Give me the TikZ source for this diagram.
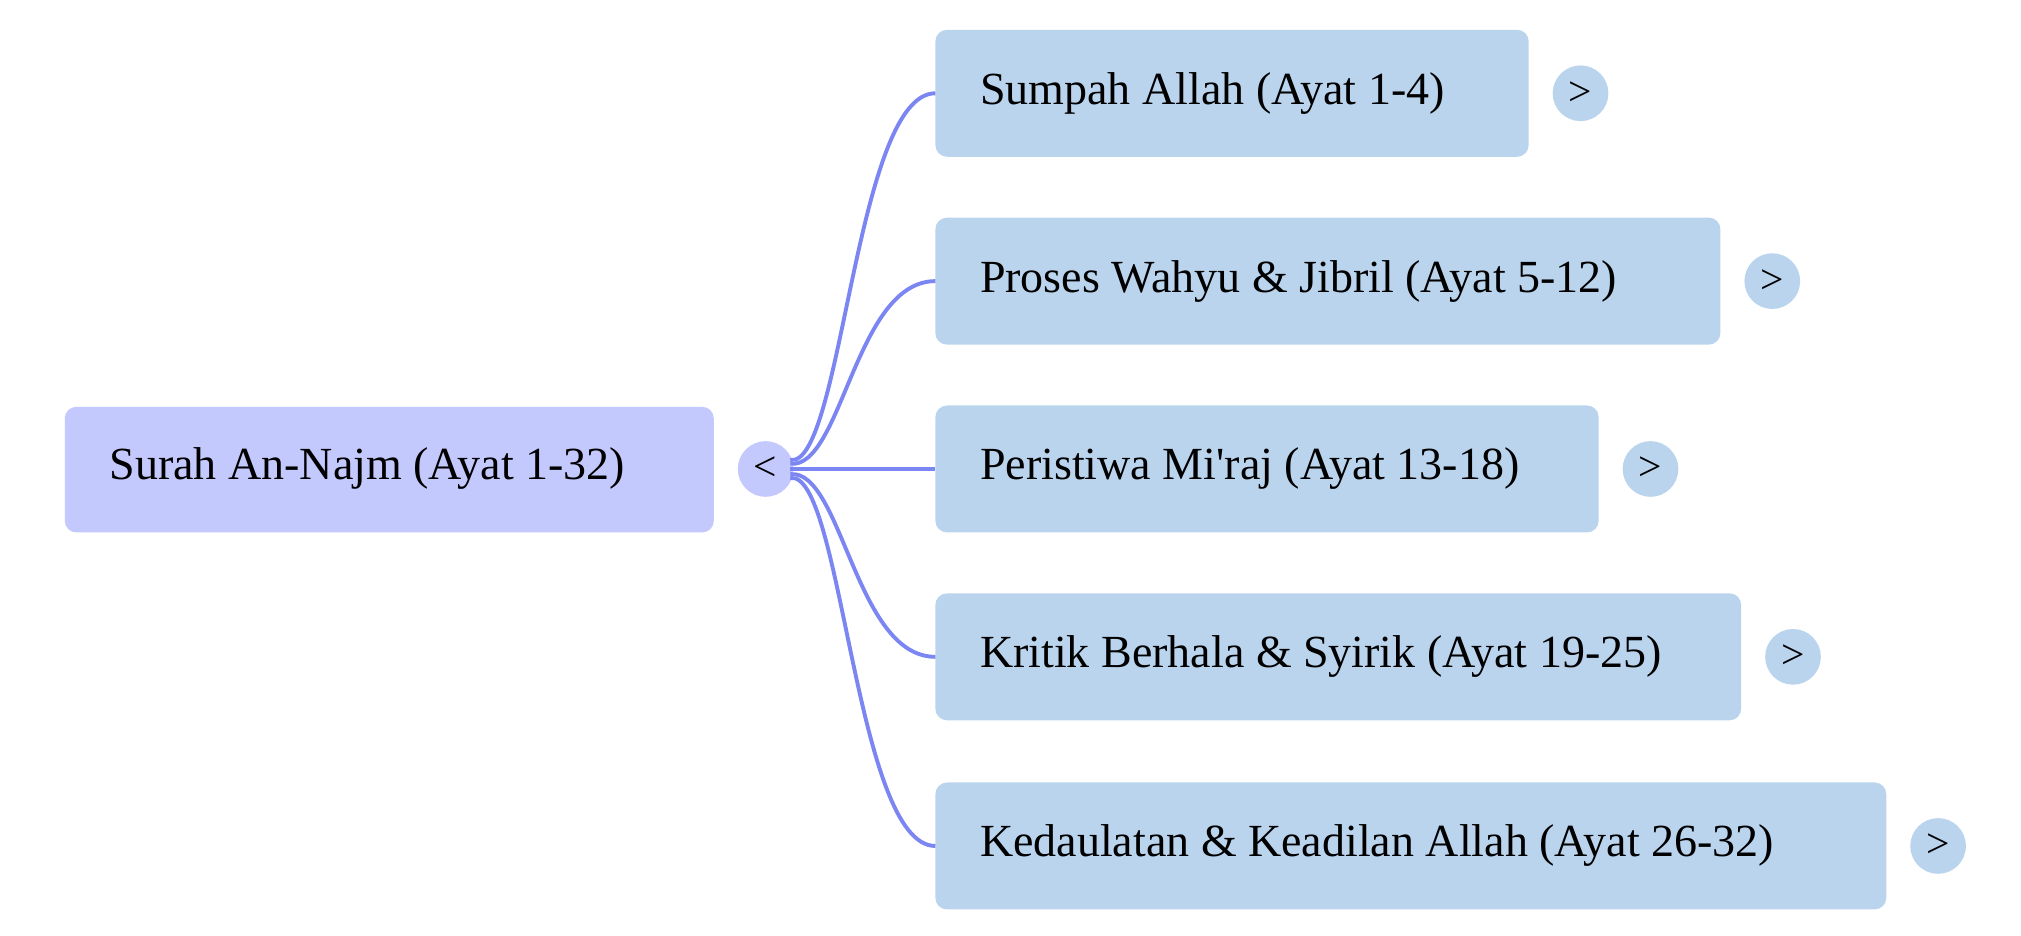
\documentclass[tikz,border=0pt]{standalone}
\usepackage{fontspec}
\setmainfont{Liberation Serif}
\begin{document}
\begin{tikzpicture}[x=1pt,y=-1pt,
  box/.style={rounded corners=9pt,inner sep=0pt},
  txt/.style={anchor=west,font=\fontsize{35.5}{40}\selectfont},
  dot/.style={circle,minimum size=43pt,inner sep=0pt,font=\fontsize{32}{32}\selectfont},
  link/.style={draw=lk,line width=3pt}]
\definecolor{rt}{HTML}{C3C9FD}\definecolor{ch}{HTML}{BAD4EE}\definecolor{lk}{HTML}{7B86F2}
\useasboundingbox (0,0) rectangle (1560,722);
\fill[rt,box] (50,314) rectangle (551,411);
\node[txt] (root) at (81,362) {Surah An-Najm (Ayat 1-32)};
\node[dot,fill=rt] (c) at (591,362) {<};
\foreach \i/\y/\r/\t/\s in {1/72/1180/Sumpah Allah (Ayat 1-4)/-7,2/217/1328/Proses Wahyu \& Jibril (Ayat 5-12)/-4,3/362/1234/Peristiwa Mi\textquotesingle raj (Ayat 13-18)/0,4/507/1344/Kritik Berhala \& Syirik (Ayat 19-25)/4,5/653/1456/Kedaulatan \& Keadilan Allah (Ayat 26-32)/7}{
  \fill[ch,box] (722,\y-49) rectangle (\r,\y+49);
  \coordinate (e\i) at (722,\y);
  \coordinate (o\i) at (610,362+\s);
  \node[txt] (n\i) at (753,\y) {\t};
  \node[dot,fill=ch] (d\i) at (\r+40,\y) {>};
  \draw[link] (o\i) .. controls (650,362) and (660,\y) .. (e\i);
}
\end{tikzpicture}
\end{document}
